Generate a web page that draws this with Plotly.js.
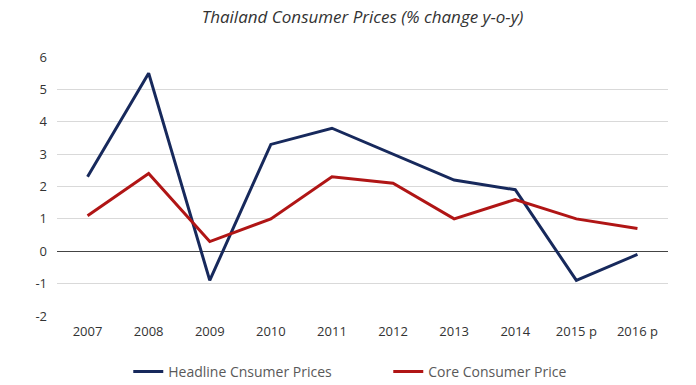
<!DOCTYPE html>
<html>
<head>
<meta charset="utf-8">
<script src="https://cdn.plot.ly/plotly-3.0.1.min.js"></script>
<style>html,body{margin:0;padding:0;background:#fff;}#chart{width:696px;height:385px;}</style>
</head>
<body>
<div id="chart"></div>
<script>
const years = ["2007","2008","2009","2010","2011","2012","2013","2014","2015 p","2016 p"];
const headline = [2.3, 5.5, -0.9, 3.3, 3.8, 3.0, 2.2, 1.9, -0.9, -0.1];
const core = [1.1, 2.4, 0.3, 1.0, 2.3, 2.1, 1.0, 1.6, 1.0, 0.7];
const seriesNames = ["Headline Cnsumer Prices", "Core Consumer Price"];
const yTickVals = [-2, -1, 0, 1, 2, 3, 4, 5, 6];
const yTickText = ["-2", "-1", "0", "1", "2", "3", "4", "5", "6"];

const traces = [
  {x: years, y: headline, name: seriesNames[0], type: "scatter", mode: "lines",
   line: {color: "#17295c", width: 3}},
  {x: years, y: core, name: seriesNames[1], type: "scatter", mode: "lines",
   line: {color: "#b01515", width: 3}}
];

const layout = {
  width: 696, height: 385,
  margin: {l: 57, r: 28, t: 57, b: 69, autoexpand: false},
  paper_bgcolor: "#fff", plot_bgcolor: "#fff",
  font: {family: "Open Sans, Liberation Sans, sans-serif", color: "#404040", size: 13},
  title: {text: "<i>Thailand Consumer Prices (% change y-o-y)</i>", x: 0.5, xanchor: "center",
          xref: "paper", y: 0.955, yanchor: "middle", font: {size: 17, color: "#333"}},
  xaxis: {type: "category", range: [-0.5, 9.5], showgrid: false, zeroline: false, showline: false,
          ticks: "", tickfont: {size: 13, color: "#333"}, fixedrange: true, ticklabelstandoff: 6},
  yaxis: {range: [-2, 6], tickvals: yTickVals, ticktext: yTickText, showgrid: true,
          gridcolor: "#d9d9d9", gridwidth: 1,
          zeroline: true, zerolinecolor: "#444", zerolinewidth: 1.5, showline: false,
          ticks: "", tickfont: {size: 13, color: "#333"}, fixedrange: true, ticklabelstandoff: 9},
  legend: {orientation: "h", xref: "container", x: 0.1843, xanchor: "left",
           yref: "container", y: 0.034, yanchor: "middle", entrywidth: 215,
           font: {size: 14, color: "#595959"}, tracegroupgap: 0},
  showlegend: true
};

Plotly.newPlot("chart", traces, layout, {displayModeBar: false, staticPlot: true});
</script>
</body>
</html>
